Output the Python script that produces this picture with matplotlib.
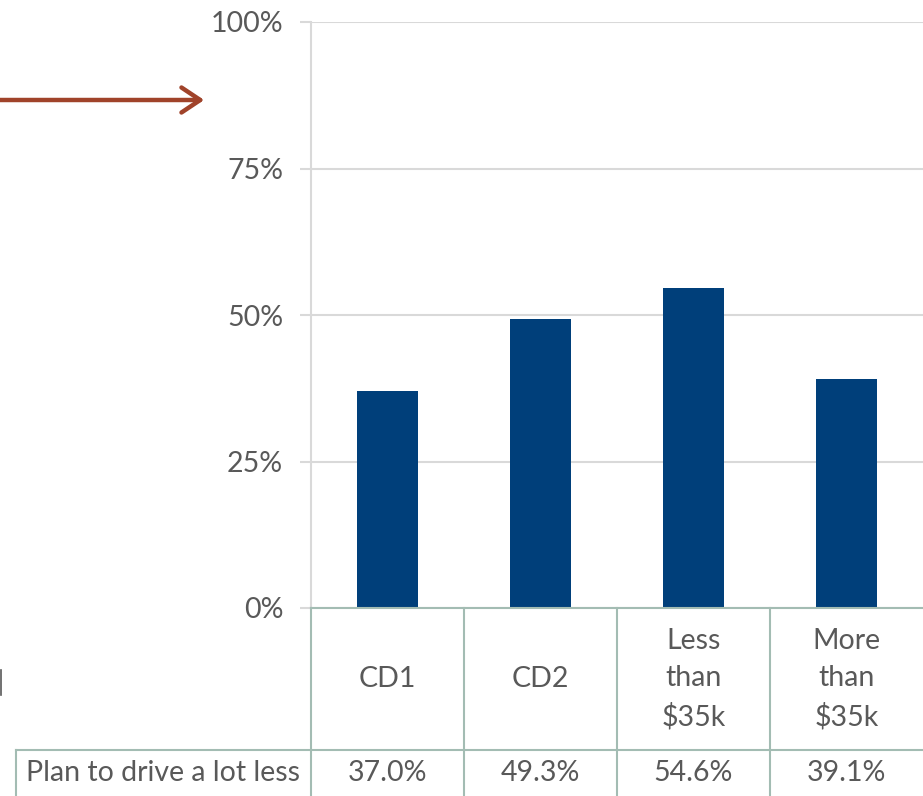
import matplotlib.pyplot as plt
import matplotlib.transforms as mtransforms
from matplotlib.lines import Line2D
from matplotlib.patches import FancyArrowPatch

plt.rcParams['font.family'] = ['Lato', 'DejaVu Sans']

categories = ['CD1', 'CD2', 'Less\nthan\n$35k', 'More\nthan\n$35k']
values = [37.0, 49.3, 54.6, 39.1]
value_labels = ['37.0%', '49.3%', '54.6%', '39.1%']
row_label = 'Plan to drive a lot less'
yticks = [0, 25, 50, 75, 100]

bar_color = '#003f7a'
grid_color = '#d9d9d9'
table_color = '#a3bcb3'
text_color = '#595959'
fs = 20.5

fig = plt.figure(figsize=(9.23, 7.96), dpi=100)
ax = fig.add_axes([311 / 923, 1 - 608 / 796, 612 / 923, 586 / 796])

x = list(range(len(categories)))
ax.bar(x, values, width=0.4, color=bar_color, zorder=3)
ax.set_xlim(-0.5, 3.5)
ax.set_ylim(0, 100)
ax.set_yticks(yticks)
ax.set_yticklabels([f'{t}%' for t in yticks], fontsize=fs, color=text_color)
ax.set_xticks([])
ax.tick_params(axis='y', length=8, width=1.5, color=grid_color, pad=12)
ax.grid(axis='y', color=grid_color, linewidth=1.5, zorder=0)
for s in ['top', 'right', 'bottom']:
    ax.spines[s].set_visible(False)
ax.spines['left'].set_color(grid_color)
ax.spines['left'].set_linewidth(1.5)

# data table below the axis
tr = mtransforms.blended_transform_factory(ax.transData, ax.transAxes)
y_head = -142 / 586
y_val = -(773 - 608) / 586
y_bot = -200 / 586
x_lab = (16 - 311) / 153 - 0.5
lw = 1.5

def seg(xs, ys):
    ax.add_line(Line2D(xs, ys, transform=tr, color=table_color, lw=lw, clip_on=False, zorder=4))

seg([-0.5, 3.5], [0, 0])
seg([x_lab, 3.5], [y_head, y_head])
for b in [-0.5, 0.5, 1.5, 2.5]:
    seg([b, b], [0, y_bot])
seg([x_lab, x_lab], [y_head, y_bot])

for i, c in enumerate(categories):
    ax.text(i, y_head / 2, c, transform=tr, ha='center', va='center',
            fontsize=fs, color=text_color, linespacing=1.52)
    ax.text(i, y_val, value_labels[i], transform=tr,
            ha='center', va='center', fontsize=fs, color=text_color)
ax.text((x_lab - 0.5) / 2, y_val, row_label, transform=tr, ha='center',
        va='center', fontsize=fs, color=text_color)

# arrow at top left
fig.add_artist(FancyArrowPatch(
    (-5 / 923, 1 - 100 / 796), (207 / 923, 1 - 100 / 796), transform=fig.transFigure,
    arrowstyle='->,head_length=0.9,head_width=0.6', mutation_scale=15,
    color='#a0432a', lw=3.2, capstyle='round', joinstyle='round'))

fig.add_artist(Line2D([0.0008, 0.0008], [1 - 670 / 796, 1 - 695 / 796],
                      transform=fig.transFigure, color='#595959', lw=1.2))

plt.savefig('out.png', dpi=100)
